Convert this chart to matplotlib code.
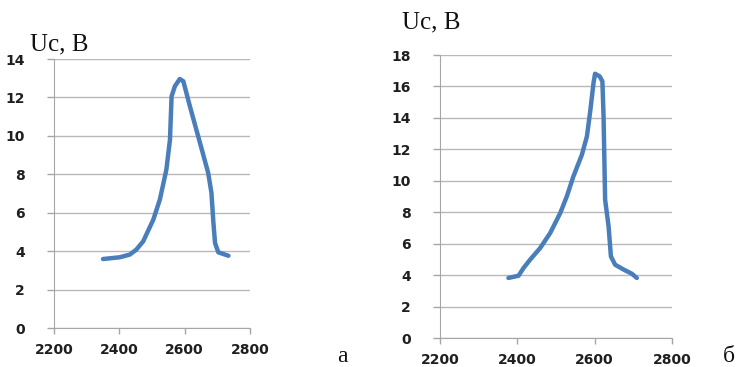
import matplotlib.pyplot as plt

# chart a
xa = [2350, 2401, 2432, 2452, 2473, 2504, 2524, 2544, 2555, 2560, 2570, 2585,
      2596, 2616, 2647, 2672, 2682, 2688, 2693, 2703, 2734]
ya = [3.59, 3.68, 3.82, 4.08, 4.51, 5.64, 6.68, 8.24, 9.8, 12.06, 12.58, 12.96,
      12.84, 11.54, 9.63, 8.07, 7.03, 5.47, 4.42, 3.94, 3.76]

# chart b
xb = [2377, 2403, 2416, 2433, 2459, 2485, 2511, 2528, 2545, 2567, 2580, 2589,
      2597, 2601, 2613, 2620, 2623, 2627, 2636, 2640, 2642, 2653, 2675, 2696, 2709]
yb = [3.82, 3.96, 4.45, 4.98, 5.72, 6.68, 7.95, 9.01, 10.28, 11.66, 12.83, 14.52,
      16.22, 16.81, 16.64, 16.32, 14.10, 8.80, 7.10, 5.83, 5.19, 4.66, 4.35, 4.09, 3.82]

xticks = [2200, 2400, 2600, 2800]
yticks_a = list(range(0, 15, 2))
yticks_b = list(range(0, 19, 2))

W, H = 740, 367
fig = plt.figure(figsize=(W / 100, H / 100), dpi=100)


def px_axes(left, top, right, bottom):
    return fig.add_axes([left / W, 1 - bottom / H, (right - left) / W, (bottom - top) / H])


def style(ax, yticks):
    ax.set_xlim(2200, 2800)
    ax.set_ylim(yticks[0], yticks[-1])
    ax.set_xticks(xticks)
    ax.set_yticks(yticks)
    ax.grid(axis='y', color='#b8b8b8', lw=1)
    ax.set_axisbelow(True)
    for s in ['top', 'right']:
        ax.spines[s].set_visible(False)
    ax.spines['left'].set_color('#a6a6a6')
    ax.spines['bottom'].set_color('#a6a6a6')
    ax.tick_params(axis='both', colors='#a6a6a6', labelcolor='#1f1f1f',
                   labelsize=10, width=1)
    ax.tick_params(axis='x', length=4, pad=7)
    ax.tick_params(axis='y', length=5, pad=16)
    for lab in ax.get_xticklabels() + ax.get_yticklabels():
        lab.set_family('DejaVu Sans')
        lab.set_weight('bold')


ax1 = px_axes(54, 59, 250, 328)
ax1.plot(xa, ya, color='#4a7ebb', lw=3.2, solid_joinstyle='round', solid_capstyle='round')
style(ax1, yticks_a)

ax2 = px_axes(440, 55, 672, 338)
ax2.plot(xb, yb, color='#4a7ebb', lw=3.2, solid_joinstyle='round', solid_capstyle='round')
style(ax2, yticks_b)

serif = {'family': 'Liberation Serif', 'size': 18, 'color': '#111111'}
fig.text(30 / W, 1 - 50 / H, 'Uc, B', **serif)
fig.text(402 / W, 1 - 28 / H, 'Uc, B', **serif)
fig.text(337 / W, 1 - 362 / H, 'а', family='Liberation Serif', size=17, color='#111111')
fig.text(723 / W, 1 - 362 / H, 'б', family='Liberation Serif', size=17, color='#111111')

fig.savefig('out.png', dpi=100)
